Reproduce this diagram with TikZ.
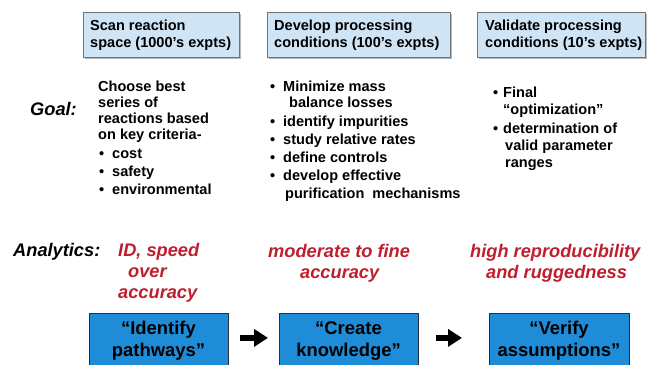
\documentclass[tikz,border=0pt]{standalone}
\usepackage{fontspec}
\setmainfont{Liberation Sans}
\usetikzlibrary{arrows.meta,shadows}

\definecolor{headfill}{RGB}{207,229,246}
\definecolor{headline}{RGB}{110,115,120}
\definecolor{stagefill}{RGB}{30,140,215}
\definecolor{stageline}{RGB}{40,45,60}
\definecolor{analred}{RGB}{190,30,45}

\begin{document}
\begin{tikzpicture}[x=1bp,y=-1bp,
  headbox/.style={draw=headline, line width=1bp, fill=headfill, inner sep=0,
    anchor=north west, minimum height=45bp,
    drop shadow={shadow xshift=1.2bp, shadow yshift=-1.2bp, opacity=0.45, fill=black!60}},
  body/.style={font=\bfseries\fontsize{14.6}{17}\selectfont, anchor=base west, inner sep=0},
  rowlabel/.style={font=\bfseries\itshape\fontsize{18.3}{22}\selectfont, anchor=base west, inner sep=0},
  analtxt/.style={rowlabel, text=analred},
  stagebox/.style={draw=stageline, line width=0.8bp, fill=stagefill, inner sep=0,
    anchor=north west, minimum height=62bp},
  stagetxt/.style={font=\bfseries\fontsize{18.5}{22}\selectfont, anchor=base, inner sep=0},
  flow/.style={line width=6.5bp, -{Triangle[length=14bp,width=17bp]}}
]
\useasboundingbox (0,0) rectangle (647,364);

% header boxes
\node[headbox, minimum width=156bp] (h1) at (83,12) {};
\node[headbox, minimum width=183bp] (h2) at (267,12) {};
\node[headbox, minimum width=168bp] (h3) at (477,12) {};
\node[body] (h1a) at (90,30) {Scan reaction};
\node[body] (h1b) at (90,47) {space (1000’s expts)};
\node[body] (h2a) at (274,30) {Develop processing};
\node[body] (h2b) at (274,47) {conditions (100’s expts)};
\node[body] (h3a) at (485,30) {Validate processing};
\node[body] (h3b) at (485,47) {conditions (10’s expts)};

% goal row
\node[rowlabel] (goal) at (30,115) {Goal:};

\node[body] (g1a) at (98,91) {Choose best};
\node[body] (g1b) at (98,107) {series of};
\node[body] (g1c) at (98,123) {reactions based};
\node[body] (g1d) at (98,139) {on key criteria-};
\node[body] (g1e) at (99,158) {•};
\node[body] (g1f) at (112,158) {cost};
\node[body] (g1g) at (99,176) {•};
\node[body] (g1h) at (112,176) {safety};
\node[body] (g1i) at (99,194) {•};
\node[body] (g1j) at (112,194) {environmental};

\node[body] (g2a) at (270,91) {•};
\node[body] (g2b) at (283,91) {Minimize mass};
\node[body] (g2c) at (289,107) {balance losses};
\node[body] (g2d) at (270,126) {•};
\node[body] (g2e) at (283,126) {identify impurities};
\node[body] (g2f) at (270,144) {•};
\node[body] (g2g) at (283,144) {study relative rates};
\node[body] (g2h) at (270,162) {•};
\node[body] (g2i) at (283,162) {define controls};
\node[body] (g2j) at (270,180) {•};
\node[body] (g2k) at (283,180) {develop effective};
\node[body] (g2l) at (285,198) {purification\hspace{0.55em}mechanisms};

\node[body] (g3a) at (493,97) {•};
\node[body] (g3b) at (503,97) {Final};
\node[body] (g3c) at (503,114) {“optimization”};
\node[body] (g3d) at (493,133) {•};
\node[body] (g3e) at (503,133) {determination of};
\node[body] (g3f) at (505,150) {valid parameter};
\node[body] (g3g) at (505,167) {ranges};

% analytics row
\node[rowlabel] (anal) at (13,256) {Analytics:};
\node[analtxt] (a1a) at (118,256) {ID, speed};
\node[analtxt] (a1b) at (128,277) {over};
\node[analtxt] (a1c) at (118,298) {accuracy};
\node[analtxt] (a2a) at (268,257) {moderate to fine};
\node[analtxt] (a2b) at (300,278) {accuracy};
\node[analtxt] (a3a) at (470,257) {high reproducibility};
\node[analtxt] (a3b) at (486,278) {and ruggedness};

% stage boxes
\node[stagebox, minimum width=139bp] (s1) at (89,313) {};
\node[stagebox, minimum width=139bp] (s2) at (279,313) {};
\node[stagebox, minimum width=140bp] (s3) at (489,313) {};
\node[stagetxt] (s1a) at (158.5,334) {“Identify};
\node[stagetxt] (s1b) at (158.5,356) {pathways”};
\node[stagetxt] (s2a) at (348.5,334) {“Create};
\node[stagetxt] (s2b) at (348.5,356) {knowledge”};
\node[stagetxt] (s3a) at (559,334) {“Verify};
\node[stagetxt] (s3b) at (559,356) {assumptions”};

\draw[flow, shorten <=11bp, shorten >=11bp] ([yshift=6.5bp]s1.east) -- ([yshift=6.5bp]s2.west);
\draw[flow, shorten <=17bp, shorten >=27bp] ([yshift=6.5bp]s2.east) -- ([yshift=6.5bp]s3.west);
\end{tikzpicture}
\end{document}
